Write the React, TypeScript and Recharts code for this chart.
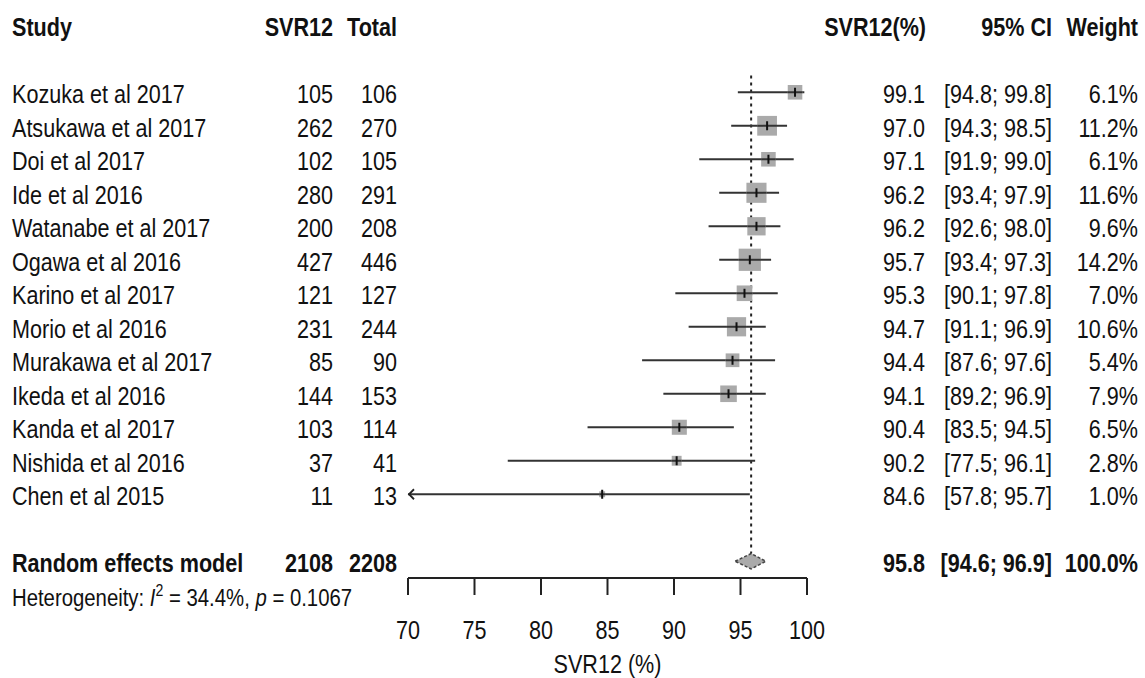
import React from 'react';
import { ScatterChart, Scatter, XAxis, YAxis, ReferenceLine, ReferenceArea, ReferenceDot } from 'recharts';

// study level data
const studies = [
  'Kozuka et al 2017', 'Atsukawa et al 2017', 'Doi et al 2017', 'Ide et al 2016',
  'Watanabe et al 2017', 'Ogawa et al 2016', 'Karino et al 2017', 'Morio et al 2016',
  'Murakawa et al 2017', 'Ikeda et al 2016', 'Kanda et al 2017', 'Nishida et al 2016',
  'Chen et al 2015',
];
const events = [105, 262, 102, 280, 200, 427, 121, 231, 85, 144, 103, 37, 11];
const totals = [106, 270, 105, 291, 208, 446, 127, 244, 90, 153, 114, 41, 13];
const estimates = [99.1, 97.0, 97.1, 96.2, 96.2, 95.7, 95.3, 94.7, 94.4, 94.1, 90.4, 90.2, 84.6];
const ciLower = [94.8, 94.3, 91.9, 93.4, 92.6, 93.4, 90.1, 91.1, 87.6, 89.2, 83.5, 77.5, 57.8];
const ciUpper = [99.8, 98.5, 99.0, 97.9, 98.0, 97.3, 97.8, 96.9, 97.6, 96.9, 94.5, 96.1, 95.7];
const weights = [6.1, 11.2, 6.1, 11.6, 9.6, 14.2, 7.0, 10.6, 5.4, 7.9, 6.5, 2.8, 1.0];

// random effects model
const pooledEvents = 2108;
const pooledTotal = 2208;
const pooledEstimate = 95.8;
const pooledLower = 94.6;
const pooledUpper = 96.9;
const hetI2 = '34.4%';
const hetP = '0.1067';

const xTicks = [70, 75, 80, 85, 90, 95, 100];
const X_MIN = 70;
const X_MAX = 100;

// layout
const W = 1145;
const H = 678;
const LEFT_W = 408;
const RIGHT_W = 338;
const HEADER_ROW = -1;
const POOLED_ROW = studies.length + 2;
const ROW_H = 33.5;
const Y_DOMAIN: [number, number] = [-1.755, POOLED_ROW + 0.5];
const DIAMOND_HALF = 0.23;
const SX = 0.83;
const FONT = 'Liberation Sans, Arial, sans-serif';
const TXT = 11; // baseline offset from row centre

const rows = studies.map((s, i) => ({
  name: s,
  x: estimates[i],
  row: i + 1,
  weight: weights[i],
}));
const yTicks = [HEADER_ROW, ...rows.map(r => r.row), POOLED_ROW];

const T = ({ x, y, anchor = 'start', bold = false, size = 26, children }: any) => (
  <text
    transform={`translate(${x},${y}) scale(${SX},1)`}
    textAnchor={anchor}
    fontSize={size}
    fontWeight={bold ? 'bold' : 'normal'}
    fontFamily={FONT}
    fill="#111"
  >
    {children}
  </text>
);

const LeftTick = (props: any) => {
  const { y, payload } = props;
  const row = Math.round(payload.value);
  const ty = y + TXT;
  if (row === HEADER_ROW) {
    return (
      <g>
        <T x={12} y={ty} bold>Study</T>
        <T x={333} y={ty} anchor="end" bold>SVR12</T>
        <T x={397} y={ty} anchor="end" bold>Total</T>
      </g>
    );
  }
  if (row === POOLED_ROW) {
    return (
      <g>
        <T x={12} y={ty} bold>Random effects model</T>
        <T x={333} y={ty} anchor="end" bold>{pooledEvents}</T>
        <T x={397} y={ty} anchor="end" bold>{pooledTotal}</T>
        <T x={12} y={ty + ROW_H} size={24.5}>
          <tspan>Heterogeneity: </tspan>
          <tspan fontStyle="italic">I</tspan>
          <tspan dy={-10} fontSize={17}>2</tspan>
          <tspan dy={10}> = {hetI2}, </tspan>
          <tspan fontStyle="italic">p</tspan>
          <tspan> = {hetP}</tspan>
        </T>
      </g>
    );
  }
  const i = row - 1;
  return (
    <g>
      <T x={12} y={ty}>{studies[i]}</T>
      <T x={333} y={ty} anchor="end">{events[i]}</T>
      <T x={397} y={ty} anchor="end">{totals[i]}</T>
    </g>
  );
};

const RightTick = (props: any) => {
  const { y, payload } = props;
  const row = Math.round(payload.value);
  const ty = y + TXT;
  if (row === HEADER_ROW) {
    return (
      <g>
        <T x={926} y={ty} anchor="end" bold>SVR12(%)</T>
        <T x={1052} y={ty} anchor="end" bold>95% CI</T>
        <T x={1138} y={ty} anchor="end" bold>Weight</T>
      </g>
    );
  }
  if (row === POOLED_ROW) {
    return (
      <g>
        <T x={925} y={ty} anchor="end" bold>{pooledEstimate.toFixed(1)}</T>
        <T x={1052} y={ty} anchor="end" bold>[{pooledLower.toFixed(1)}; {pooledUpper.toFixed(1)}]</T>
        <T x={1138} y={ty} anchor="end" bold>100.0%</T>
      </g>
    );
  }
  const i = row - 1;
  return (
    <g>
      <T x={925} y={ty} anchor="end">{estimates[i].toFixed(1)}</T>
      <T x={1052} y={ty} anchor="end">[{ciLower[i].toFixed(1)}; {ciUpper[i].toFixed(1)}]</T>
      <T x={1138} y={ty} anchor="end">{weights[i].toFixed(1)}%</T>
    </g>
  );
};

const XTick = (props: any) => {
  const { x, payload } = props;
  return <T x={x} y={639} anchor="middle">{payload.value}</T>;
};

const AxisTitle = () => (
  <T x={LEFT_W + (W - LEFT_W - RIGHT_W) / 2} y={673} anchor="middle">SVR12 (%)</T>
);

const StudySquare = (props: any) => {
  const { cx, cy, payload } = props;
  const s = 5.9 * Math.sqrt(payload.weight);
  return (
    <g>
      <rect x={cx - s / 2} y={cy - s / 2} width={s} height={s} fill="#aaaaaa" />
      <line x1={cx - s / 2} x2={cx + s / 2} y1={cy} y2={cy} stroke="#333" strokeWidth={2} />
      <line x1={cx} x2={cx} y1={cy - 4.5} y2={cy + 4.5} stroke="#111" strokeWidth={2} />
    </g>
  );
};

const Diamond = (props: any) => {
  const { x, y, width, height } = props;
  const mx = x + (width * (pooledEstimate - pooledLower)) / (pooledUpper - pooledLower);
  const my = y + height / 2;
  const pts = `${x},${my} ${mx},${y} ${x + width},${my} ${mx},${y + height}`;
  return <polygon points={pts} fill="#aaaaaa" stroke="#444" strokeWidth={1.5} strokeDasharray="3 2" />;
};

const Arrow = (props: any) => {
  const { cx, cy } = props;
  return (
    <path d={`M ${cx + 6} ${cy - 5} L ${cx + 1} ${cy} L ${cx + 6} ${cy + 5}`} fill="none" stroke="#222" strokeWidth={1.8} />
  );
};

export default function App() {
  return (
    <div style={{ position: 'absolute', left: 0, top: 0, background: '#fff' }}>
      <ScatterChart width={W} height={H} margin={{ top: 0, right: 0, bottom: 0, left: 0 }}>
        <XAxis
          type="number"
          dataKey="x"
          domain={[X_MIN, X_MAX]}
          ticks={xTicks}
          interval={0}
          height={H - Math.round(ROW_H * (POOLED_ROW + 0.5 - Y_DOMAIN[0]))}
          tickSize={17}
          axisLine={{ stroke: '#222', strokeWidth: 2 }}
          tickLine={{ stroke: '#222', strokeWidth: 2 }}
          tick={(p: any) => <XTick {...p} />}
          label={<AxisTitle />}
        />
        <YAxis
          yAxisId="left"
          type="number"
          dataKey="row"
          domain={Y_DOMAIN}
          allowDataOverflow
          reversed
          ticks={yTicks}
          interval={0}
          width={LEFT_W}
          axisLine={false}
          tickLine={false}
          tick={(p: any) => <LeftTick {...p} />}
        />
        <YAxis
          yAxisId="right"
          orientation="right"
          type="number"
          dataKey="row"
          domain={Y_DOMAIN}
          allowDataOverflow
          reversed
          ticks={yTicks}
          interval={0}
          width={RIGHT_W}
          axisLine={false}
          tickLine={false}
          tick={(p: any) => <RightTick {...p} />}
        />
        <ReferenceLine
          yAxisId="left"
          segment={[
            { x: pooledEstimate, y: 0.5 },
            { x: pooledEstimate, y: POOLED_ROW - DIAMOND_HALF },
          ]}
          stroke="#222"
          strokeWidth={2}
          strokeDasharray="3 4"
        />
        {rows.map((r, i) => (
          <ReferenceLine
            key={r.name}
            yAxisId="left"
            segment={[
              { x: Math.max(ciLower[i], X_MIN), y: r.row },
              { x: Math.min(ciUpper[i], X_MAX), y: r.row },
            ]}
            stroke="#333"
            strokeWidth={2}
          />
        ))}
        {rows
          .filter((r, i) => ciLower[i] < X_MIN)
          .map(r => (
            <ReferenceDot key={'arr' + r.name} yAxisId="left" x={X_MIN} y={r.row} shape={(p: any) => <Arrow {...p} />} />
          ))}
        <ReferenceArea
          yAxisId="left"
          x1={pooledLower}
          x2={pooledUpper}
          y1={POOLED_ROW - DIAMOND_HALF}
          y2={POOLED_ROW + DIAMOND_HALF}
          shape={(p: any) => <Diamond {...p} />}
        />
        <Scatter
          yAxisId="left"
          data={rows}
          isAnimationActive={false}
          shape={(p: any) => <StudySquare {...p} />}
        />
      </ScatterChart>
    </div>
  );
}
